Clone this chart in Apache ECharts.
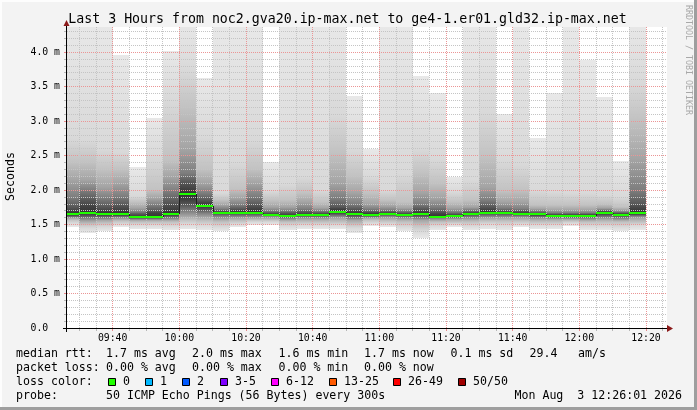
<!DOCTYPE html>
<html><head><meta charset="utf-8">
<script src="https://cdn.jsdelivr.net/npm/echarts@6/dist/echarts.min.js"></script>
<style>html,body{margin:0;padding:0;background:#f3f3f3}#c{width:697px;height:410px}</style>
</head><body><div id="c"></div>
<script>
// ---- data (ms) ----
const colEnd = ['09:30','09:35','09:40','09:45','09:50','09:55','10:00','10:05','10:10','10:15','10:20','10:25','10:30','10:35','10:40','10:45','10:50','10:55','11:00','11:05','11:10','11:15','11:20','11:25','11:30','11:35','11:40','11:45','11:50','11:55','12:00','12:05','12:10','12:15','12:20'];
const median = [1.652,1.671,1.652,1.652,1.613, 1.613,1.652,1.947,1.768,1.671, 1.671,1.671,1.638,1.623,1.638, 1.638,1.681,1.652,1.643,1.652, 1.638,1.652,1.613,1.623,1.652, 1.671,1.671,1.657,1.647,1.623, 1.623,1.623,1.662,1.643,1.662];
// upper ping ranks (1 = max, 3, 6, 10, 15, 20, 23 from the top)
const hi1  = [4.4,4.4,4.4,3.96,2.34, 3.05,4.02,4.4,3.63,4.4, 4.4,4.4,2.40,4.4,4.4, 4.4,4.4,3.36,2.59,4.4, 4.4,3.65,3.40,2.19,4.4, 4.4,3.10,4.4,2.75,3.41, 4.4,3.88,3.35,2.42,4.4];
const hi3  = [2.75,2.72,2.60,2.55,1.92, 2.50,3.30,3.74,2.77,1.95, 2.40,2.74,1.98,2.09,2.19, 2.00,3.09,2.58,2.19,2.00, 2.24,2.60,2.45,1.97,2.15, 3.14,2.44,2.38,2.00,1.97, 1.95,1.95,1.93,1.90,3.55];
const hi6  = [2.40,2.40,2.30,2.30,1.82, 2.00,2.44,3.20,2.30,1.85, 2.02,2.30,1.85,1.85,1.95, 1.82,2.53,2.20,1.95,1.86, 1.82,2.25,2.10,1.83,1.85, 2.48,1.98,2.00,1.78,1.78, 1.78,1.78,1.80,1.76,3.02];
const hi10 = [2.15,2.15,2.05,2.10,1.74, 1.88,2.19,2.60,2.10,1.78, 1.88,2.10,1.76,1.76,1.82, 1.74,2.10,1.95,1.80,1.77, 1.74,1.95,1.88,1.74,1.76, 2.05,1.82,1.82,1.72,1.71, 1.71,1.71,1.74,1.71,2.45];
const hi15 = [1.90,2.00,1.88,1.92,1.68, 1.78,1.98,2.25,1.95,1.73, 1.78,1.92,1.70,1.70,1.73, 1.69,1.88,1.80,1.72,1.71, 1.69,1.80,1.75,1.68,1.71, 1.85,1.74,1.73,1.69,1.67, 1.67,1.67,1.71,1.68,2.00];
const hi20 = [1.76,1.85,1.76,1.78,1.65, 1.70,1.82,2.12,1.86,1.70, 1.72,1.78,1.67,1.66,1.68, 1.66,1.76,1.72,1.68,1.68, 1.66,1.72,1.68,1.65,1.68, 1.76,1.70,1.69,1.67,1.645, 1.645,1.645,1.69,1.665,1.80];
const hi23 = [1.70,1.75,1.70,1.71,1.63, 1.66,1.73,2.02,1.81,1.685, 1.69,1.72,1.655,1.64,1.655, 1.65,1.72,1.68,1.66,1.665, 1.65,1.68,1.645,1.635,1.665, 1.71,1.685,1.67,1.66,1.632, 1.632,1.632,1.675,1.655,1.72];
// lower ping ranks (1 = min, 3, 6, 10, 15, 20, 23 from the bottom)
const lo1  = [1.46,1.38,1.40,1.46,1.44, 1.44,1.42,1.44,1.42,1.40, 1.46,1.49,1.49,1.42,1.44, 1.44,1.43,1.38,1.48,1.47, 1.40,1.30,1.42,1.46,1.42, 1.44,1.42,1.47,1.44,1.44, 1.48,1.42,1.42,1.40,1.42];
const lo3  = [1.52,1.45,1.47,1.51,1.49, 1.49,1.48,1.50,1.49,1.47, 1.51,1.53,1.53,1.48,1.49, 1.49,1.49,1.45,1.52,1.51, 1.47,1.40,1.48,1.50,1.48, 1.50,1.49,1.51,1.49,1.49, 1.52,1.48,1.48,1.47,1.49];
const lo6  = [1.56,1.50,1.52,1.55,1.53, 1.53,1.53,1.56,1.55,1.53, 1.55,1.57,1.57,1.53,1.54, 1.54,1.54,1.51,1.56,1.55, 1.53,1.49,1.53,1.54,1.53, 1.55,1.55,1.55,1.54,1.54, 1.55,1.53,1.53,1.53,1.54];
const lo10 = [1.59,1.55,1.56,1.58,1.56, 1.56,1.57,1.63,1.61,1.58, 1.59,1.60,1.60,1.57,1.58, 1.58,1.59,1.56,1.59,1.59, 1.58,1.56,1.57,1.58,1.58, 1.59,1.60,1.59,1.58,1.58, 1.58,1.57,1.58,1.57,1.59];
const lo15 = [1.61,1.59,1.60,1.61,1.58, 1.58,1.60,1.70,1.66,1.62, 1.62,1.63,1.62,1.60,1.61, 1.61,1.63,1.60,1.615,1.62, 1.61,1.60,1.59,1.60,1.61, 1.62,1.63,1.62,1.61,1.60, 1.60,1.60,1.61,1.60,1.62];
const lo20 = [1.63,1.62,1.62,1.63,1.60, 1.60,1.63,1.78,1.71,1.645, 1.645,1.65,1.63,1.61,1.625, 1.625,1.655,1.63,1.63,1.635, 1.625,1.63,1.60,1.61,1.635, 1.645,1.65,1.635,1.625,1.612, 1.612,1.612,1.635,1.62,1.635];
const lo23 = [1.64,1.645,1.64,1.64,1.605, 1.605,1.64,1.86,1.75,1.66, 1.66,1.66,1.635,1.62,1.635, 1.635,1.67,1.645,1.64,1.645, 1.635,1.645,1.607,1.618,1.645, 1.66,1.66,1.645,1.64,1.618, 1.618,1.618,1.65,1.635,1.65];
const xTickLabels = ['09:40','10:00','10:20','10:40','11:00','11:20','11:40','12:00','12:20'];
const yTickValues = [0,0.5,1.0,1.5,2.0,2.5,3.0,3.5,4.0];
const lossLabels = ['0','1','2','3-5','6-12','13-25','26-49','50/50'];
const lossColors = ['#20ff00','#00b8ff','#0059ff','#7e00ff','#ff00ff','#ff5a00','#ff0000','#a00000'];
const rttStats = ['1.7 ms avg','2.0 ms max','1.6 ms min','1.7 ms now','0.1 ms sd','29.4','am/s'];
const lossStats = ['0.00 % avg','0.00 % max','0.00 % min','0.00 % now'];

// ---- build ----
const toMin = s => { const p = s.split(':'); return +p[0]*60 + +p[1]; };
const hiLv = [hi1,hi3,hi6,hi10,hi15,hi20,hi23];
const loLv = [lo1,lo3,lo6,lo10,lo15,lo20,lo23];
const lvColor = ['#e8e8e8','#d9d9d9','#c2c2c2','#a4a4a4','#7e7e7e','#585858','#414141'];
const midColor = '#323232';
const xMin = 566.3, xMax = 746.3, yMax = 4.362;
const colData = colEnd.map((t,i)=>[toMin(t)-5, toMin(t), median[i]]);
const majorX = xTickLabels.map(toMin);
const minorX = []; for (let t=570; t<=745; t+=5) if (t%20!==0) minorX.push(t);
const minorY = []; for (let k=1; k<=43; k++) if (k%5!==0) minorY.push(k/10);
const MONO = 'DejaVu Sans Mono';
const fmtMin = v => { const h=Math.floor(v/60), m=Math.round(v%60); return (h<10?'0':'')+h+':'+(m<10?'0':'')+m; };
const grad = stops => ({type:'linear', x:0, y:0, x2:0, y2:1, global:false,
  colorStops: stops.map(s=>({offset:s[0], color:s[1]}))});

function smoke(params, api){
  const i = params.dataIndex;
  const x0 = Math.round(api.coord([api.value(0),0])[0]);
  const x1 = Math.round(api.coord([api.value(1),0])[0]);
  const w = x1 - x0;
  const Y = v => Math.round(api.coord([xMin, v])[1]);
  const ch = [];
  const n = hiLv.length;
  for (let k=0;k<n-1;k++){
    const yt = Y(hiLv[k][i]), yb = Y(hiLv[k+1][i]);
    if (yb>yt) ch.push({type:'rect', shape:{x:x0,y:yt,width:w,height:yb-yt}, style:{fill:grad([[0,lvColor[k]],[1,lvColor[k+1]]])}});
  }
  const ct = Y(hiLv[n-1][i]), cb = Y(loLv[n-1][i]), cm = Y(median[i]);
  if (cb>ct){
    const f = Math.min(1,Math.max(0,(cm-ct)/(cb-ct)));
    ch.push({type:'rect', shape:{x:x0,y:ct,width:w,height:cb-ct}, style:{fill:grad([[0,lvColor[n-1]],[f,midColor],[1,lvColor[n-1]]])}});
  }
  for (let k=n-2;k>=0;k--){
    const yt = Y(loLv[k+1][i]), yb = Y(loLv[k][i]);
    if (yb>yt) ch.push({type:'rect', shape:{x:x0,y:yt,width:w,height:yb-yt}, style:{fill:grad([[0,lvColor[k+1]],[1,lvColor[k]]])}});
  }
  return {type:'group', children:ch};
}
function medLine(params, api){
  const i = params.dataIndex;
  const x0 = Math.round(api.coord([api.value(0),0])[0]);
  const x1 = Math.round(api.coord([api.value(1),0])[0]);
  const ym = Math.round(api.coord([xMin, api.value(2)])[1]);
  const ch = [];
  if (i>0){
    const yp = Math.round(api.coord([xMin, median[i-1]])[1]);
    ch.push({type:'line', shape:{x1:x0+0.5,y1:yp,x2:x0+0.5,y2:ym}, style:{stroke:'#202020',lineWidth:1}});
  }
  ch.push({type:'rect', shape:{x:x0,y:ym-1,width:x1-x0,height:2}, style:{fill:lossColors[0]}});
  return {type:'group', children:ch};
}

const graphics = [];
const txt = (x,y,text,size,opts) => Object.assign({type:'text', x, y, silent:true,
   style:Object.assign({text, fontFamily:MONO, fontSize:size, fill:'#000', align:'left', verticalAlign:'middle'}, (opts&&opts.style)||{})}, opts&&opts.el||{});
graphics.push({type:'rect', shape:{x:0,y:0,width:697,height:2}, style:{fill:'#fdfdfd'}, silent:true});
graphics.push({type:'rect', shape:{x:0,y:0,width:2,height:410}, style:{fill:'#fdfdfd'}, silent:true});
graphics.push({type:'rect', shape:{x:694,y:0,width:3,height:410}, style:{fill:'#9e9e9e'}, silent:true});
graphics.push({type:'rect', shape:{x:0,y:407,width:697,height:3}, style:{fill:'#9e9e9e'}, silent:true});
graphics.push(txt(347.5,19.5,'Last 3 Hours from noc2.gva20.ip-max.net to ge4-1.er01.gld32.ip-max.net',13.25,{style:{align:'center'}}));
graphics.push(txt(10.5,176.5,'Seconds',11.6,{style:{align:'center'}, el:{rotation:Math.PI/2}}));
graphics.push(txt(688,5,'RRDTOOL / TOBI OETIKER',8.3,{style:{align:'left',fill:'#a8a8a8'}, el:{rotation:-Math.PI/2}}));
graphics.push({type:'line', shape:{x1:63,y1:328.5,x2:668,y2:328.5}, style:{stroke:'#000',lineWidth:1}, silent:true, z:10});
graphics.push({type:'line', shape:{x1:66.5,y1:332,x2:66.5,y2:26}, style:{stroke:'#000',lineWidth:1}, silent:true, z:10});
graphics.push({type:'polygon', shape:{points:[[667,325],[673,328.5],[667,332]]}, style:{fill:'#8b1a1a'}, silent:true, z:10});
graphics.push({type:'polygon', shape:{points:[[63.5,26],[66.5,20],[69.5,26]]}, style:{fill:'#8b1a1a'}, silent:true, z:10});
const LF = 11.6;
const rowY = [354, 368, 382, 396];
graphics.push(txt(16,rowY[0],'median rtt:',LF));
const rttX = [106,192,278.5,364,450.5,529.5,578];
rttStats.forEach((s,k)=>graphics.push(txt(rttX[k],rowY[0],s,LF)));
graphics.push(txt(16,rowY[1],'packet loss:',LF));
const lossX = [106,192,278.5,364];
lossStats.forEach((s,k)=>graphics.push(txt(lossX[k],rowY[1],s,LF)));
graphics.push(txt(16,rowY[2],'loss color:',LF));
const boxX = [108,145,182,220,271,329,393,458];
lossLabels.forEach((s,k)=>{
  graphics.push({type:'rect', shape:{x:boxX[k]+0.5,y:378.5,width:7,height:7}, style:{fill:lossColors[k],stroke:'#000',lineWidth:1}, silent:true});
  graphics.push(txt(boxX[k]+15,rowY[2],s,LF));
});
graphics.push(txt(16,rowY[3],'probe:',LF));
graphics.push(txt(106,rowY[3],'50 ICMP Echo Pings (56 Bytes) every 300s',LF));
graphics.push(txt(682,rowY[3],'Mon Aug  3 12:26:01 2026',LF,{style:{align:'right'}}));

const chart = echarts.init(document.getElementById('c'), null, {renderer:'canvas'});
chart.setOption({
  animation:false,
  backgroundColor:'#f3f3f3',
  grid:{left:67, right:30, top:27, bottom:82, show:true, backgroundColor:'#ffffff', borderWidth:0},
  xAxis:[
    {type:'value', min:xMin, max:xMax, z:3,
     axisLine:{show:false}, axisLabel:{show:false},
     axisTick:{show:true, length:3, customValues:minorX, lineStyle:{color:'#b8b8b8'}},
     splitLine:{show:true, lineStyle:{color:'#c4c4c4', width:1, type:[1,1]}}},
    {type:'value', min:xMin, max:xMax, position:'bottom', z:3,
     axisLine:{show:false},
     axisTick:{show:true, length:3, customValues:majorX, lineStyle:{color:'#e88a8a'}},
     axisLabel:{show:true, customValues:majorX, formatter:v=>fmtMin(v), margin:5, color:'#000', fontFamily:MONO, fontSize:9.8},
     splitLine:{show:true, lineStyle:{color:'#eb9595', width:1, type:[1,1]}}}
  ],
  yAxis:[
    {type:'value', min:0, max:yMax, z:3,
     axisLine:{show:false}, axisLabel:{show:false},
     axisTick:{show:true, length:3, customValues:minorY, lineStyle:{color:'#b8b8b8'}},
     splitLine:{show:true, lineStyle:{color:'#c4c4c4', width:1, type:[1,1]}}},
    {type:'value', min:0, max:yMax, position:'left', z:3,
     axisLine:{show:false},
     axisTick:{show:true, length:3, customValues:yTickValues, lineStyle:{color:'#e88a8a'}},
     axisLabel:{show:true, customValues:yTickValues, formatter:v=> v===0 ? '0.0  ' : v.toFixed(1)+' m', margin:7, color:'#000', fontFamily:MONO, fontSize:9.8, align:'right'},
     splitLine:{show:true, lineStyle:{color:'#eb9595', width:1, type:[1,1]}}}
  ],
  series:[
    {type:'custom', name:'smoke', renderItem:smoke, data:colData, xAxisIndex:0, yAxisIndex:0, clip:true, z:1, silent:true},
    {type:'custom', name:'median', renderItem:medLine, data:colData, xAxisIndex:0, yAxisIndex:0, clip:true, z:5, silent:true}
  ],
  graphic:graphics
});
</script></body></html>
